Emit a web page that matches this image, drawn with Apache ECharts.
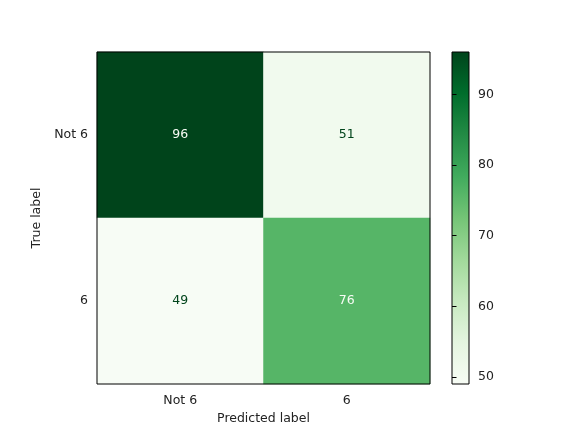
<!DOCTYPE html>
<html>
<head>
<meta charset="utf-8">
<script src="https://cdn.jsdelivr.net/npm/echarts@6/dist/echarts.min.js"></script>
<style>html,body{margin:0;padding:0;background:#fff;}#c{width:577px;height:433px;}</style>
</head>
<body>
<div id="c"></div>
<script>
const predictedLabels = ['Not 6', '6'];
const trueLabels = ['Not 6', '6'];
// matrix rows = true label, cols = predicted label
const rowNot6 = [96, 51];
const row6 = [49, 76];
const colorbarTicks = [50, 60, 70, 80, 90];
const greens = ['#f7fcf5', '#e5f5e0', '#c7e9c0', '#a1d99b', '#74c476', '#41ab5d', '#238b45', '#006d2c', '#00441b'];

const rows = [rowNot6, row6];
let vmin = Infinity, vmax = -Infinity;
rows.forEach(r => r.forEach(v => { vmin = Math.min(vmin, v); vmax = Math.max(vmax, v); }));
const thresh = (vmin + vmax) / 2;

const data = [];
rows.forEach((r, yi) => r.forEach((v, xi) => {
  data.push({ value: [xi, yi, v], label: { color: v < thresh ? greens[8] : greens[0] } });
}));

const font = 'DejaVu Sans';
const fs = 12.5;
const txt = '#222';
const chart = echarts.init(document.getElementById('c'), null, { renderer: 'canvas' });
chart.setOption({
  backgroundColor: '#fff',
  animation: false,
  textStyle: { fontFamily: font },
  grid: [
    { left: 97, top: 52, width: 333, height: 332, show: true, borderColor: '#000', borderWidth: 1, backgroundColor: 'transparent', z: 5 },
    { left: 452, top: 52, width: 17, height: 332, show: true, borderColor: '#000', borderWidth: 1,
      backgroundColor: { type: 'linear', x: 0, y: 1, x2: 0, y2: 0,
        colorStops: greens.map((c, i) => ({ offset: i / (greens.length - 1), color: c })) } }
  ],
  xAxis: [
    { type: 'category', gridIndex: 0, data: predictedLabels, name: 'Predicted label', nameLocation: 'middle', nameGap: 27,
      nameTextStyle: { fontFamily: font, fontSize: fs, color: txt },
      axisLine: { show: false }, axisTick: { alignWithLabel: true, length: 4.5, lineStyle: { color: '#000' } },
      axisLabel: { fontFamily: font, fontSize: fs, color: txt, margin: 10 }, splitLine: { show: false } },
    { type: 'value', gridIndex: 1, show: false }
  ],
  yAxis: [
    { type: 'category', gridIndex: 0, data: trueLabels, inverse: true, name: 'True label', nameLocation: 'middle', nameGap: 50,
      nameTextStyle: { fontFamily: font, fontSize: fs, color: txt },
      axisLine: { show: false }, axisTick: { alignWithLabel: true, length: 4.5, lineStyle: { color: '#000' } },
      axisLabel: { fontFamily: font, fontSize: fs, color: txt, margin: 9 }, splitLine: { show: false } },
    { type: 'value', gridIndex: 1, position: 'right', min: vmin, max: vmax,
      axisLine: { show: false },
      axisTick: { show: true, length: 4.5, lineStyle: { color: '#000' }, customValues: colorbarTicks },
      axisLabel: { fontFamily: font, fontSize: fs, color: txt, margin: 9, customValues: colorbarTicks },
      splitLine: { show: false } }
  ],
  visualMap: {
    show: false, type: 'continuous', min: vmin, max: vmax, dimension: 2, seriesIndex: 0,
    inRange: { color: greens }
  },
  series: [{
    type: 'heatmap', xAxisIndex: 0, yAxisIndex: 0, data: data,
    label: { show: true, fontFamily: font, fontSize: fs },
    itemStyle: { borderWidth: 0 },
    emphasis: { disabled: true }
  }]
});
</script>
</body>
</html>
